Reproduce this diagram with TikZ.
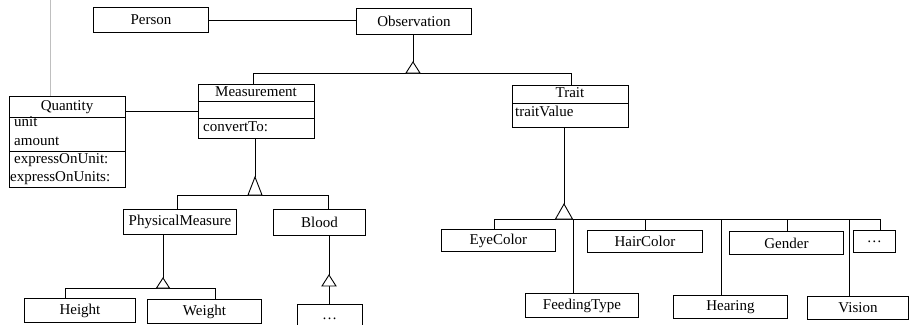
\documentclass[tikz,border=0pt]{standalone}
\usepackage{fontspec}
\setmainfont{Liberation Serif}
\begin{document}
\begin{tikzpicture}[x=1pt,y=-1pt,
  every node/.style={font=\fontsize{15}{18}\selectfont},
  cls/.style={draw, line width=0.9pt, inner sep=0pt, anchor=north west},
  txt/.style={inner sep=0pt, anchor=base},
  txtl/.style={inner sep=0pt, anchor=base west},
  link/.style={line width=0.9pt},
  gen/.style={line width=0.9pt, fill=white},
  guide/.style={line width=0.8pt, black!25},
]
\useasboundingbox (0,0) rectangle (909,324);
\clip (0,0) rectangle (909,324);

% ---- classes ----
\node[cls, minimum width=115, minimum height=25] (person) at (93,7) {Person};
\node[cls, minimum width=115, minimum height=26] (obs) at (356,8) {Observation};

% Quantity (three compartments)
\node[cls, minimum width=116, minimum height=91] (quant) at (9,96) {};
\draw[link] (9,117) -- (125,117);
\draw[link] (9,151) -- (125,151);
\node[txt] (quantName) at (67,110) {Quantity};
\node[txtl] (qa1) at (14,126) {unit};
\node[txtl] (qa2) at (14,145) {amount};
\node[txtl] (qm1) at (14,163) {expressOnUnit:};
\node[txtl] (qm2) at (10,181) {expressOnUnits:};

% Measurement (three compartments)
\node[cls, minimum width=116, minimum height=54] (meas) at (198,84) {};
\draw[link] (198,101) -- (314,101);
\draw[link] (198,118) -- (314,118);
\node[txt] (measName) at (256,96) {Measurement};
\node[txtl] (mm1) at (203,131) {convertTo:};

% Trait (two compartments)
\node[cls, minimum width=116, minimum height=42] (trait) at (512,85) {};
\draw[link] (512,103) -- (628,103);
\node[txt] (traitName) at (570,97) {Trait};
\node[txtl] (ta1) at (515,116) {traitValue};

\node[cls, minimum width=113, minimum height=25] (pm) at (123,209) {PhysicalMeasure};
\node[cls, minimum width=92, minimum height=26] (blood) at (273,209) {Blood};
\node[cls, minimum width=111, minimum height=24] (height) at (24,298) {Height};
\node[cls, minimum width=114, minimum height=24] (weight) at (147,299) {Weight};
\node[cls, minimum width=65, minimum height=30] (bdots) at (297,304) {};
\node[txt] (bdotsText) at (329.5,319) {\dots};

\node[cls, minimum width=114, minimum height=22] (eye) at (441,229) {EyeColor};
\node[cls, minimum width=113, minimum height=24] (feed) at (525,293) {FeedingType};
\node[cls, minimum width=115, minimum height=22] (hair) at (587,230) {HairColor};
\node[cls, minimum width=114, minimum height=23] (hear) at (673,295) {Hearing};
\node[cls, minimum width=114, minimum height=23] (gender) at (729,231) {Gender};
\node[cls, minimum width=101, minimum height=23] (vision) at (807,296) {Vision};
\node[cls, minimum width=42, minimum height=22] (tdots) at (853,230) {\dots};

% ---- associations ----
\coordinate (gtop) at (50,0);
\draw[guide] (gtop) -- (gtop |- quant.north);
\draw[link] (person.east) -- (person.east -| obs.west);
\coordinate (qmy) at (0,111);
\draw[link] (qmy -| quant.east) -- (qmy -| meas.west);

% ---- generalization: Observation ----
\coordinate (obsApex) at (413,62);
\coordinate (dMeas) at (253,73);
\coordinate (dTrait) at (571,73);
\draw[link] (obsApex |- obs.south) -- (obsApex);
\draw[link] (dMeas |- meas.north) -- (dMeas) -- (dTrait) -- (dTrait |- trait.north);
\draw[gen] (obsApex) -- ++(-7,11) -- ++(14,0) -- cycle;

% ---- generalization: Measurement ----
\coordinate (measApex) at (255,177);
\coordinate (dPm) at (177,195);
\coordinate (dBlood) at (328,195);
\draw[link] (measApex |- meas.south) -- (measApex);
\draw[link] (dPm |- pm.north) -- (dPm) -- (dBlood) -- (dBlood |- blood.north);
\draw[gen] (measApex) -- ++(-7,18) -- ++(14,0) -- cycle;

% ---- generalization: PhysicalMeasure ----
\coordinate (pmApex) at (163,278);
\coordinate (dHeight) at (65,288);
\coordinate (dWeight) at (215,288);
\draw[link] (pmApex |- pm.south) -- (pmApex);
\draw[link] (dHeight |- height.north) -- (dHeight) -- (dWeight) -- (dWeight |- weight.north);
\draw[gen] (pmApex) -- ++(-6.5,10) -- ++(13,0) -- cycle;

% ---- generalization: Blood ----
\coordinate (blApex) at (329,275);
\coordinate (blBase) at (329,286);
\draw[link] (blApex |- blood.south) -- (blApex);
\draw[link] (blBase) -- (blBase |- bdots.north);
\draw[gen] (blApex) -- ++(-7,11) -- ++(14,0) -- cycle;

% ---- generalization: Trait ----
\coordinate (trApex) at (564,204);
\coordinate (dEye) at (494,219);
\coordinate (dFeed) at (573,219);
\coordinate (dHair) at (645,219);
\coordinate (dHear) at (721,219);
\coordinate (dGender) at (787,219);
\coordinate (dVision) at (849,219);
\coordinate (dDots) at (880,219);
\draw[link] (trApex |- trait.south) -- (trApex);
\draw[link] (dEye |- eye.north) -- (dEye) -- (dDots) -- (dDots |- tdots.north);
\draw[link] (dFeed) -- (dFeed |- feed.north);
\draw[link] (dHair) -- (dHair |- hair.north);
\draw[link] (dHear) -- (dHear |- hear.north);
\draw[link] (dGender) -- (dGender |- gender.north);
\draw[link] (dVision) -- (dVision |- vision.north);
\draw[gen] (trApex) -- ++(-8.5,15) -- ++(17,0) -- cycle;
\end{tikzpicture}
\end{document}
